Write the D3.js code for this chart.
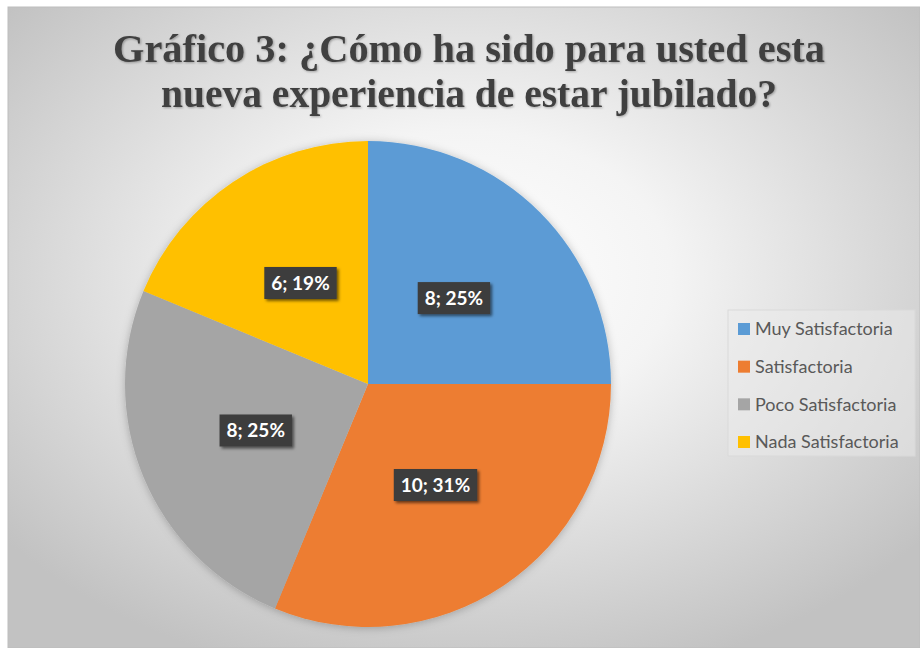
<!DOCTYPE html>
<html>
<head>
<meta charset="utf-8">
<script src="https://cdn.jsdelivr.net/npm/d3@7"></script>
<style>
  body { margin: 0; background: #fff; }
</style>
</head>
<body>
<script>
var width = 920,
    height = 648,
    categories = ["Muy Satisfactoria", "Satisfactoria", "Poco Satisfactoria", "Nada Satisfactoria"],
    values = [8, 10, 8, 6],
    percentLabels = ["25%", "31%", "25%", "19%"],
    colors = ["#5B9BD5", "#ED7D31", "#A5A5A5", "#FFC000"],
    titleLines = ["Gráfico 3: ¿Cómo ha sido para usted esta", "nueva experiencia de estar jubilado?"];

var svg = d3.select("body").append("svg")
    .attr("width", width)
    .attr("height", height);

var defs = svg.append("defs");

// fondo con degradado radial
var grad = defs.append("radialGradient")
    .attr("id", "bg")
    .attr("cx", "50%").attr("cy", "42%").attr("r", "65%");
grad.append("stop").attr("offset", "0%").attr("stop-color", "#ffffff");
grad.append("stop").attr("offset", "35%").attr("stop-color", "#f4f4f4");
grad.append("stop").attr("offset", "100%").attr("stop-color", "#c2c2c2");

var shadow = defs.append("filter").attr("id", "shadow")
    .attr("x", "-20%").attr("y", "-20%").attr("width", "150%").attr("height", "160%");
shadow.append("feDropShadow")
    .attr("dx", 2).attr("dy", 2).attr("stdDeviation", 1.8)
    .attr("flood-color", "#000").attr("flood-opacity", 0.55);

var pieShadow = defs.append("filter").attr("id", "pieShadow")
    .attr("x", "-10%").attr("y", "-10%").attr("width", "120%").attr("height", "120%");
pieShadow.append("feDropShadow")
    .attr("dx", 0).attr("dy", 1).attr("stdDeviation", 4)
    .attr("flood-color", "#000").attr("flood-opacity", 0.25);

var titleShadow = defs.append("filter").attr("id", "titleShadow");
titleShadow.append("feDropShadow")
    .attr("dx", 1).attr("dy", 1).attr("stdDeviation", 1)
    .attr("flood-color", "#000").attr("flood-opacity", 0.3);

svg.append("rect")
    .attr("x", 8).attr("y", 7)
    .attr("width", width - 8).attr("height", height - 7)
    .attr("fill", "url(#bg)")
    .attr("stroke", "#bdbdbd");

// título: un solo texto con dos líneas
var titleLayout = [{y: 62, len: 712}, {y: 107, len: 616}];
svg.append("text")
    .attr("filter", "url(#titleShadow)")
    .attr("text-anchor", "middle")
    .style("font-family", "'Liberation Serif', 'Times New Roman', serif")
    .style("font-weight", "bold")
    .style("font-size", "40px")
    .style("fill", "#404040")
    .selectAll("tspan")
    .data(titleLines)
    .join("tspan")
    .attr("x", 469)
    .attr("y", function(d, i) { return titleLayout[i].y; })
    .attr("textLength", function(d, i) { return titleLayout[i].len; })
    .attr("lengthAdjust", "spacingAndGlyphs")
    .text(function(d) { return d; });

// pastel
var cx = 368, cy = 384, radius = 243;

var pie = d3.pie().sort(null).value(function(d) { return d; });
var arcs = pie(values);

var arc = d3.arc().innerRadius(0).outerRadius(radius);

var g = svg.append("g")
    .attr("transform", "translate(" + cx + "," + cy + ")");

g.append("g")
    .attr("filter", "url(#pieShadow)")
    .selectAll("path")
    .data(arcs)
    .join("path")
    .attr("d", arc)
    .attr("fill", function(d, i) { return colors[i]; });

// etiquetas de datos
var labels = g.selectAll("g.label")
    .data(arcs)
    .join("g")
    .attr("class", "label")
    .attr("transform", function(d) {
      var c = arc.centroid(d);
      return "translate(" + c[0] + "," + c[1] + ")";
    });

var boxes = labels.append("rect")
    .attr("fill", "#3c3c3c")
    .attr("filter", "url(#shadow)");

var labelText = labels.append("text")
    .attr("text-anchor", "middle")
    .attr("dy", "0.35em")
    .style("font-family", "Lato, 'Open Sans', sans-serif")
    .style("font-weight", "bold")
    .style("font-size", "19px")
    .style("fill", "#ffffff")
    .text(function(d, i) { return values[i] + "; " + percentLabels[i]; });

labelText.each(function(d, i) {
  var w = this.getComputedTextLength() + 14;
  d3.select(boxes.nodes()[i])
    .attr("x", -w / 2).attr("y", -16)
    .attr("width", w).attr("height", 32);
});

// leyenda
var legend = svg.append("g");

legend.append("rect")
    .attr("x", 728).attr("y", 310)
    .attr("width", 187).attr("height", 146)
    .attr("fill", "#ececec")
    .attr("fill-opacity", 0.5)
    .attr("stroke", "#d9d9d9");

var legendY = d3.scalePoint()
    .domain(categories)
    .range([329, 442]);

var items = legend.selectAll("g.item")
    .data(categories)
    .join("g")
    .attr("class", "item")
    .attr("transform", function(d) { return "translate(738," + legendY(d) + ")"; });

items.append("rect")
    .attr("x", 0).attr("y", -6)
    .attr("width", 12).attr("height", 12)
    .attr("fill", function(d, i) { return colors[i]; });

items.append("text")
    .attr("x", 17)
    .attr("dy", "0.36em")
    .style("font-family", "Lato, 'Open Sans', sans-serif")
    .style("font-size", "18px")
    .style("fill", "#595959")
    .text(function(d) { return d; });
</script>
</body>
</html>
